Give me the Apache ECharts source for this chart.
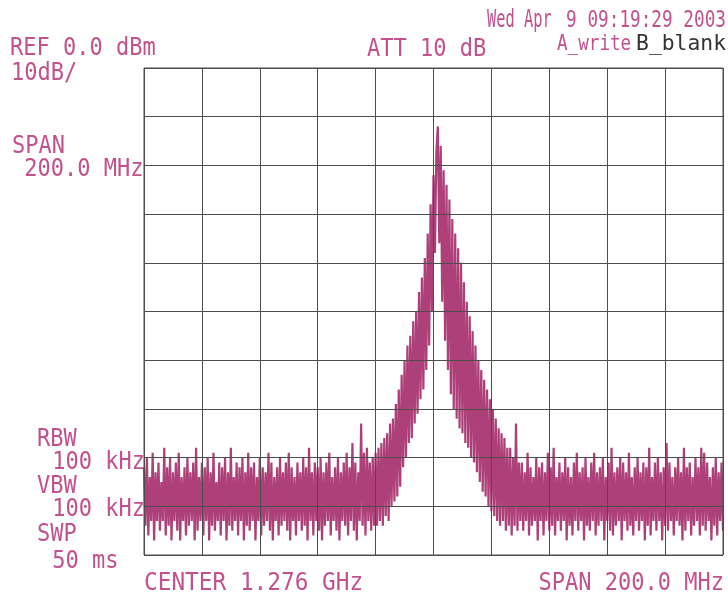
<!DOCTYPE html>
<html><head><meta charset="utf-8">
<script src="https://cdn.jsdelivr.net/npm/echarts@6/dist/echarts.min.js"></script>
<style>html,body{margin:0;padding:0;background:#fff}#c{width:728px;height:598px}</style>
</head><body><div id="c"></div>
<script>
// Frequency axis (MHz): center 1.276 GHz, span 200 MHz
const freqStartMHz = 1176;
const freqEndMHz = 1376;
const freqStepMHz = 0.5;
const xDivMHz = 20;
// Amplitude axis (dBm): REF 0 dBm, 10 dB/div
const refLevelDbm = 0;
const bottomLevelDbm = -100;
const yDivDb = 10;

// Trace values (dBm), one every 0.5 MHz
const traceLeftNoise = [
  -82,-94,-80,-96,-84,-93,-79,-97,-83,-93,-81,-95,-85,-93,-78,-96,-82,-94,-80,-97,
  -83,-93,-81,-95,-79,-97,-84,-93,-82,-96,-80,-94,-83,-93,-81,-97,-78,-95,-84,-93,
  -81,-96,-82,-93,-80,-97,-83,-94,-79,-95,-85,-93,-81,-96,-82,-93,-80,-97,-83,-94,
  -78,-95,-84,-93,-81,-96,-82,-93,-80,-97,-83,-94,-79,-95,-82,-93,-81,-97,-84,-93,
  -80,-96,-82,-94,-83,-93,-79,-95,-81,-97,-84,-93,-82,-96,-80,-94,-83,-93,-81,-95,
  -79,-97,-82,-93,-84,-96,-81,-93,-83,-95,-80,-94,-82,-97,-78,-93,-83,-96,-81,-93,
  -82,-95,-80,-97,-83,-94,-81,-93,-79,-96,-84,-93,-82,-95,-80,-97,-83,-93,-81,-94,
  -79,-96,-82,-93,-77,-95,-81,-97,-83,-93,-73,-94,-79,-96,-78,-93,-81,-95,-80,-94
];
const traceSignal = [
  -79,-94,-78,-93,-77,-94,-76,-92,-75,-93,
  -73,-90,-72,-89,-69,-88,-66,-86,-63,-82,
  -60,-80,-57,-77,-55,-76,-52,-73,-50,-71,
  -46,-68,-43,-66,-39,-62,-34,-57,-28,-50,
  -22,-38,-17,-12,-36,-16,-48,-21,-56,-24,
  -62,-27,-67,-31,-70,-34,-72,-37,-74,-40,
  -75,-44,-77,-48,-78,-51,-80,-54,-81,-57,
  -83,-60,-85,-62,-87,-64,-88,-66,-90,-68,
  -91,-70,-92,-72,-93,-74,-94,-75,-93,-76,
  -95,-78,-94,-78,-96,-80,-94,-73,-95,-81,
  -93
];
const traceRightNoise = [
  -81,-95,-83,-93,-79,-96,-82,-94,-84,-93,-80,-97,-82,-93,-81,-96,-83,-93,-79,-95,
  -82,-94,-78,-96,-84,-93,-81,-95,-83,-93,-80,-97,-82,-94,-84,-96,-81,-93,-79,-95,
  -83,-93,-82,-97,-80,-94,-84,-95,-81,-93,-79,-96,-83,-94,-82,-93,-80,-97,-84,-93,
  -81,-95,-78,-96,-83,-94,-82,-93,-80,-97,-81,-93,-83,-95,-79,-94,-84,-96,-82,-93,
  -80,-95,-83,-93,-81,-97,-82,-94,-78,-96,-84,-93,-81,-95,-80,-93,-83,-97,-82,-94,
  -77,-95,-81,-93,-84,-96,-82,-93,-80,-94,-83,-97,-78,-95,-82,-93,-81,-96,-84,-94,
  -80,-93,-82,-96,-78,-94,-79,-95,-81,-93,-84,-97,-82,-94,-80,-96,-83,-93,-81,-95
];

// Annotation texts
const leftLabels = [
  {t:'REF 0.0 dBm', x:10, y:48},
  {t:'10dB/', x:11, y:73},
  {t:'SPAN', x:12, y:146},
  {t:' 200.0 MHz', x:11, y:169},
  {t:'RBW', x:37, y:439},
  {t:' 100 kHz', x:39, y:462},
  {t:'VBW', x:37, y:486},
  {t:' 100 kHz', x:39, y:509},
  {t:'SWP', x:37, y:534},
  {t:' 50 ms', x:39, y:561}
];
const attLabel = 'ATT 10 dB';
const dateDay = 'Wed Apr';
const dateTime = '9 09:19:29 2003';
const traceAName = 'A_write';
const traceBName = 'B_blank';
const centerLabel = 'CENTER 1.276 GHz';
const spanLabel = 'SPAN 200.0 MHz';

const trace = traceLeftNoise.concat(traceSignal, traceRightNoise);
const seriesData = trace.map((v, i) => [freqStartMHz + i * freqStepMHz, v]);

const PINK = '#c2518d';
const TRACE = '#ae4079';
const GRIDC = '#4d4d4d';
const FONT = '"DejaVu Sans Mono", monospace';

function txt(str, x, y, size, sx, color, align) {
  return {
    type: 'text', x: x, y: y, scaleX: sx, z: 10,
    style: {
      text: str, fill: color || PINK,
      font: size + 'px ' + FONT,
      align: align || 'left', verticalAlign: 'middle',
      textAlign: align || 'left', textVerticalAlign: 'middle'
    }
  };
}

const graphics = [];
leftLabels.forEach(l => graphics.push(txt(l.t, l.x, l.y, 25, 0.88)));
graphics.push(txt(attLabel, 367, 49, 25, 0.88));
graphics.push(txt(dateDay, 487, 21, 24, 0.64));
graphics.push(txt(dateTime, 726, 21, 23, 0.77, PINK, 'right'));
graphics.push(txt(traceAName, 557, 44, 22, 0.8));
graphics.push(txt(traceBName, 726, 44, 22, 0.97, '#333', 'right'));
graphics.push(txt(centerLabel, 144, 583, 25, 0.91));
graphics.push(txt(spanLabel, 724, 583, 25, 0.88, PINK, 'right'));

const chart = echarts.init(document.getElementById('c'), null, {renderer: 'canvas'});
chart.setOption({
  animation: false,
  backgroundColor: '#ffffff',
  grid: {left: 144, top: 68, width: 579, height: 487, show: true,
         borderColor: GRIDC, borderWidth: 1, z: 5},
  xAxis: {
    type: 'value', min: freqStartMHz, max: freqEndMHz, interval: xDivMHz, z: 5,
    axisLine: {show: false}, axisTick: {show: false}, axisLabel: {show: false},
    splitLine: {show: true, lineStyle: {color: GRIDC, width: 1}}
  },
  yAxis: {
    type: 'value', min: bottomLevelDbm, max: refLevelDbm, interval: yDivDb, z: 5,
    axisLine: {show: false}, axisTick: {show: false}, axisLabel: {show: false},
    splitLine: {show: true, lineStyle: {color: GRIDC, width: 1}}
  },
  series: [{
    type: 'line', data: seriesData, showSymbol: false, symbol: 'none',
    sampling: null, z: 2,
    lineStyle: {color: TRACE, width: 2.2, join: 'bevel'}
  }],
  graphic: graphics
});
</script>
</body></html>
